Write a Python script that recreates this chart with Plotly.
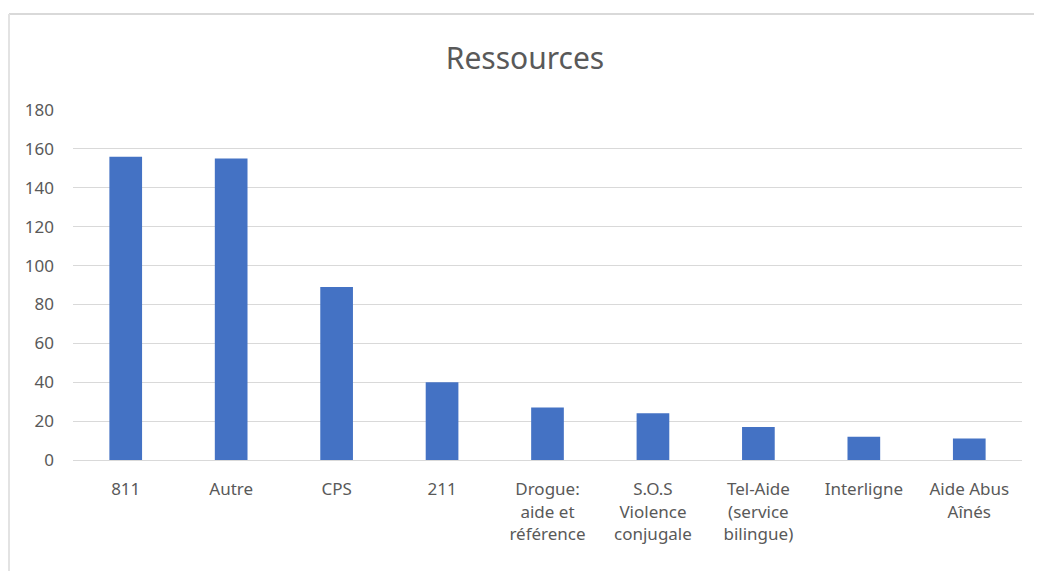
import plotly.graph_objects as go

categories = ["811", "Autre", "CPS", "211", "Drogue:<br>aide et<br>référence",
              "S.O.S<br>Violence<br>conjugale", "Tel-Aide<br>(service<br>bilingue)",
              "Interligne", "Aide Abus<br>Aînés"]
values = [156, 155, 89, 40, 27, 24, 17, 12, 11]
y_ticks = [0, 20, 40, 60, 80, 100, 120, 140, 160, 180]

OFF = 8  # page body margin
W, H = 1042 - OFF, 571 - OFF
ml, mr, mt, mb = 73 - OFF, 20, 110 - OFF, 111
pw = W - ml - mr
ph = H - mt - mb

fig = go.Figure(go.Bar(x=categories, y=values, marker=dict(color="#4472C4", line=dict(width=0)),
                       width=0.31))

fnt = "Noto Sans, sans-serif"
top_y = (H - mb - (14 - OFF)) / ph
left_x = (1 - ml) / pw
fig.update_layout(
    width=W, height=H,
    margin=dict(l=ml, r=mr, t=mt, b=mb),
    paper_bgcolor="white", plot_bgcolor="white",
    title=dict(text="Ressources", x=0.5, xanchor="center", y=1 - (58 - OFF) / H, yanchor="middle",
               font=dict(family=fnt, size=30, color="#595959")),
    showlegend=False,
    xaxis=dict(showgrid=False, showline=True, linecolor="#d9d9d9", linewidth=1,
               tickfont=dict(family=fnt, size=17, color="#595959"), ticks="",
               ticklabelstandoff=14),
    yaxis=dict(range=[0, 180], tickvals=y_ticks, showgrid=True, gridcolor="#d9d9d9", gridwidth=1,
               zeroline=False, showline=False, ticks="", ticklabelstandoff=18,
               tickfont=dict(family=fnt, size=17, color="#595959")),
    shapes=[
        dict(type="line", xref="paper", yref="paper", x0=left_x, x1=(W - ml) / pw,
             y0=top_y, y1=top_y, line=dict(color="#d9d9d9", width=2)),
        dict(type="line", xref="paper", yref="paper", x0=left_x, x1=left_x,
             y0=top_y, y1=-mb / ph, line=dict(color="#e3e3e3", width=2)),
    ],
)

fig.write_html("out.html")
